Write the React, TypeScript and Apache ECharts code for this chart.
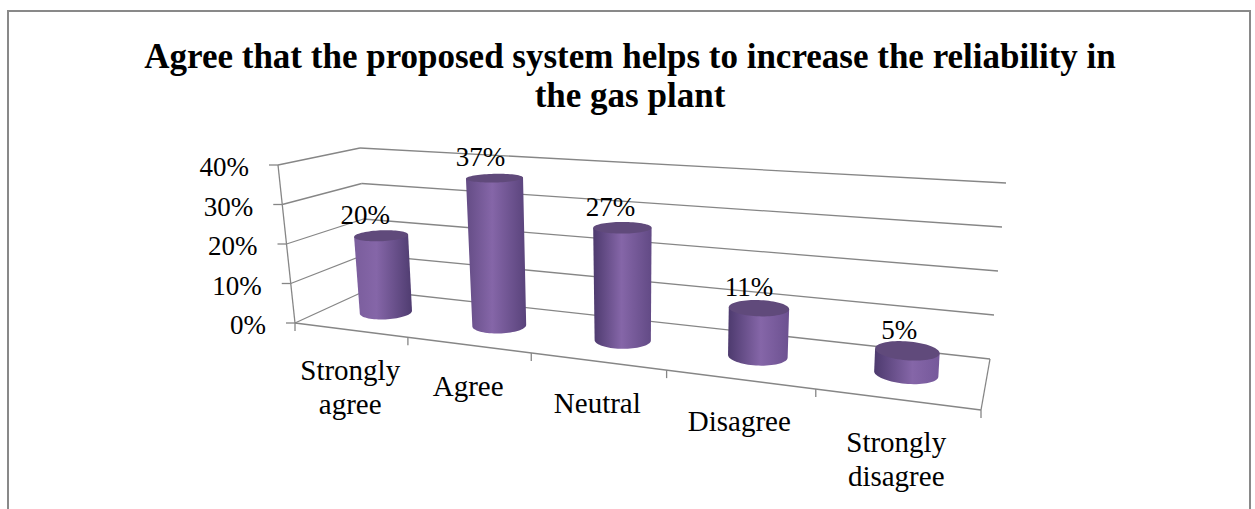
import React, { useEffect, useRef } from "react";
import * as echarts from "echarts";

const titleText = "Agree that the proposed system helps to increase the reliability in\nthe gas plant";
const categories = ["Strongly\nagree", "Agree", "Neutral", "Disagree", "Strongly\ndisagree"];
const percentValues = [20, 37, 27, 11, 5];
const axisTicks = [0, 10, 20, 30, 40];

const SERIF = '"Liberation Serif", "Times New Roman", serif';
const LINE = "#868686";

type Pt = [number, number];

// Perspective map from the unit square (u along the categories, v front to back) onto a quad.
function squareToQuad(p0: Pt, p1: Pt, p2: Pt, p3: Pt) {
  const dx1 = p1[0] - p2[0], dx2 = p3[0] - p2[0], sx = p0[0] - p1[0] + p2[0] - p3[0];
  const dy1 = p1[1] - p2[1], dy2 = p3[1] - p2[1], sy = p0[1] - p1[1] + p2[1] - p3[1];
  const den = dx1 * dy2 - dx2 * dy1;
  const g = (sx * dy2 - dx2 * sy) / den;
  const h = (dx1 * sy - sx * dy1) / den;
  const a = p1[0] - p0[0] + g * p1[0], b = p3[0] - p0[0] + h * p3[0], c = p0[0];
  const d = p1[1] - p0[1] + g * p1[1], e = p3[1] - p0[1] + h * p3[1], f = p0[1];
  return (u: number, v: number): Pt => {
    const w = g * u + h * v + 1;
    return [(a * u + b * v + c) / w, (d * u + e * v + f) / w];
  };
}

const floorMap = squareToQuad([295, 323], [981, 410], [990, 359], [367, 290]);
const ceilingMap = squareToQuad([278, 165], [987, 209], [1006, 183], [360, 148]);

// u: across the categories, v: depth, t: 0 at the floor and 1 at the axis maximum.
function project(u: number, v: number, t: number): Pt {
  const a = floorMap(u, v);
  const b = ceilingMap(u, v);
  return [a[0] + (b[0] - a[0]) * t, a[1] + (b[1] - a[1]) * t];
}

function axisFractions(api: any, params: any, category: number, value: number) {
  const rect = params.coordSys;
  const [px, py] = api.coord([category, value]);
  return { u: (px - rect.x) / rect.width, t: (rect.y + rect.height - py) / rect.height };
}

const lineEl = (a: Pt, b: Pt) => ({
  type: "line",
  shape: { x1: a[0], y1: a[1], x2: b[0], y2: b[1] },
  style: { stroke: LINE, lineWidth: 1.3, fill: "none" },
});

// Walls, floor edges, tick marks and the value labels that follow the slanted axis.
function renderWalls(params: any, api: any) {
  const value = api.value(1);
  const { t } = axisFractions(api, params, 0, value);
  const front = project(0, 0, t);
  const back = project(0, 1, t);
  const right = project(1, 1, t);
  const children: any[] = [
    lineEl(front, back),
    lineEl(back, right),
    lineEl(front, [front[0] - 9, front[1]]),
    {
      type: "text",
      style: {
        text: value + "%",
        x: front[0] - 29,
        y: front[1] + 2,
        fill: "#000",
        font: "27px " + SERIF,
        textAlign: "right",
        textVerticalAlign: "middle",
      },
    },
  ];
  if (value === axisTicks[0]) {
    const topFront = project(0, 0, 1);
    children.push(lineEl(front, topFront));
    children.push(lineEl(front, project(1, 0, 0)));
    children.push(lineEl(project(1, 0, 0), project(1, 1, 0)));
    for (let i = 0; i <= categories.length; i++) {
      const p = project(i / categories.length, 0, 0);
      children.push(lineEl(p, [p[0], p[1] + 8]));
    }
  }
  return { type: "group", children };
}

// One shaded cylinder standing mid-depth on the floor, with its value above it.
function renderCylinder(params: any, api: any) {
  const idx = api.value(0);
  const value = api.value(1);
  const { u, t } = axisFractions(api, params, idx, value);
  const ru = 0.041, rv = 0.2;
  const N = 72;
  const ring = (level: number) => {
    const pts: Pt[] = [];
    for (let k = 0; k < N; k++) {
      const a = (k / N) * Math.PI * 2;
      pts.push(project(u + ru * Math.cos(a), 0.5 + rv * Math.sin(a), level));
    }
    return pts;
  };
  const bottom = ring(0);
  const top = ring(t);
  const extreme = (pts: Pt[], sign: number) =>
    pts.reduce((best, p, i) => (sign * p[0] > sign * pts[best][0] ? i : best), 0);
  const bl = extreme(bottom, -1), br = extreme(bottom, 1);
  const tl = extreme(top, -1), tr = extreme(top, 1);
  // The visible part of the base is whichever of its two arcs lies lower on the page.
  const walk = (step: number) => {
    const arc: Pt[] = [];
    for (let k = 0, i = br; k < N; k++, i = (i + step + N) % N) {
      arc.push(bottom[i]);
      if (i === bl) break;
    }
    return arc;
  };
  const meanY = (pts: Pt[]) => pts.reduce((s, p) => s + p[1], 0) / pts.length;
  const arcA = walk(1), arcB = walk(-1);
  const arc = meanY(arcA) > meanY(arcB) ? arcA : arcB;
  // The light sits left of centre on the near-left bars and drifts right across the chart.
  const hi = 0.36 + 0.25 * u;
  const clamp = (x: number) => Math.max(0, Math.min(1, x));
  const leftColor = echarts.color.lerp(clamp((u - 0.1) / 0.4), ["#7a5d9c", "#4d3a6e"]);
  const rightColor = echarts.color.lerp(clamp((u - 0.1) / 0.8), ["#4f3c70", "#75589a"]);
  const body = [top[tl], top[tr], ...arc];
  const cx = top.reduce((s, p) => s + p[0], 0) / N;
  const cy = top.reduce((s, p) => s + p[1], 0) / N;
  return {
    type: "group",
    children: [
      {
        type: "polygon",
        shape: { points: body },
        style: {
          fill: new echarts.graphic.LinearGradient(0, 0, 1, 0, [
            { offset: 0, color: leftColor },
            { offset: hi, color: "#8566a8" },
            { offset: 1, color: rightColor },
          ]),
        },
      },
      { type: "polygon", shape: { points: top }, style: { fill: "#604a7b" } },
      {
        type: "text",
        style: {
          text: value + "%",
          x: cx - 17 + 10 * u,
          y: cy - 21,
          fill: "#000",
          font: "27px " + SERIF,
          textAlign: "center",
          textVerticalAlign: "middle",
        },
      },
    ],
  };
}

// Category names hang below the slanted front edge of the floor.
function renderCategoryLabel(params: any, api: any) {
  const idx = api.value(0);
  const { u } = axisFractions(api, params, idx, 0);
  const p = project(u, 0, 0);
  return {
    type: "text",
    style: {
      text: categories[idx],
      x: p[0],
      y: p[1] + 23 + 3 * (u - 0.1),
      fill: "#000",
      font: "29px " + SERIF,
      lineHeight: 34,
      textAlign: "center",
      textVerticalAlign: "top",
    },
  };
}

export default function App() {
  const ref = useRef<HTMLDivElement>(null);
  useEffect(() => {
    document.body.style.margin = "0";
    const chart = echarts.init(ref.current!, undefined, { renderer: "svg" });
    chart.setOption({
      animation: false,
      backgroundColor: "#fff",
      title: {
        text: titleText,
        left: 625,
        top: 32,
        textAlign: "center",
        textStyle: { fontFamily: SERIF, fontSize: 35, fontWeight: "bold", color: "#000", lineHeight: 39 },
      },
      grid: { left: 279, top: 168, width: 700, height: 157 },
      xAxis: { type: "category", data: categories, show: false },
      yAxis: {
        type: "value",
        min: 0,
        max: 40,
        interval: 10,
        show: false,
      },
      graphic: [
        {
          type: "polyline",
          shape: { points: [[8, 509], [8, 11], [1250, 11], [1250, 509]] },
          style: { stroke: "#898989", lineWidth: 2, fill: "none" },
          silent: true,
        },
      ],
      series: [
        {
          type: "custom",
          name: "walls",
          renderItem: renderWalls,
          data: axisTicks.map((v) => [0, v]),
          silent: true,
          clip: false,
          z: 1,
        },
        {
          type: "custom",
          name: "percent",
          renderItem: renderCylinder,
          data: percentValues.map((v, i) => [i, v]),
          encode: { x: 0, y: 1 },
          silent: true,
          clip: false,
          z: 2,
        },
        {
          type: "custom",
          name: "categories",
          renderItem: renderCategoryLabel,
          data: categories.map((_, i) => [i, 0]),
          silent: true,
          clip: false,
          z: 3,
        },
      ],
    });
    return () => chart.dispose();
  }, []);
  return <div ref={ref} style={{ position: "absolute", left: 0, top: 0, width: 1255, height: 509 }} />;
}
